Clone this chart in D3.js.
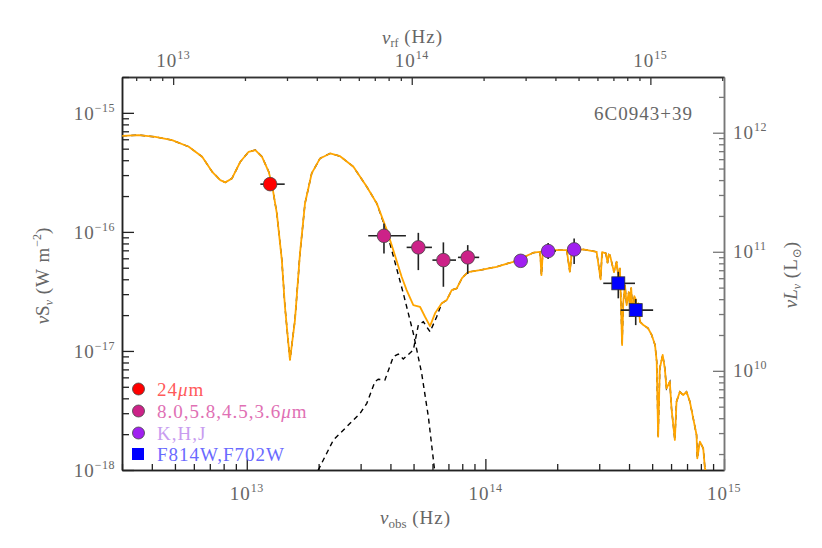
<!DOCTYPE html>
<html>
<head>
<meta charset="utf-8">
<script src="https://cdn.jsdelivr.net/npm/d3@7"></script>
<style>
  body { margin: 0; background: #fff; }
  svg { display: block; }
  text { font-family: "Liberation Serif", "DejaVu Serif", serif; fill: #666; }
</style>
</head>
<body>
<div id="chart"></div>
<script>
// redshift of 6C0943+39, rest-frame axis on top
const redshift = 1.035;
// nuL_nu / nuS_nu conversion (log10)
const logLumFactor = 27.167;

// total model (orange), log10 nu_obs [Hz] and log10 nuS_nu [W m^-2]
const totalLogNu = [12.478, 12.548, 12.617, 12.687, 12.757, 12.813, 12.855, 12.889, 12.910, 12.938,
  12.973, 13.008, 13.036, 13.064, 13.092, 13.106, 13.126, 13.147, 13.160, 13.181,
  13.202, 13.223, 13.244, 13.272, 13.307, 13.349, 13.391, 13.447, 13.503, 13.545,
  13.587, 13.614, 13.649, 13.670, 13.698, 13.726, 13.747, 13.768, 13.789, 13.817,
  13.838, 13.859, 13.880, 13.902, 13.927, 13.977, 14.047, 14.117, 14.201, 14.229,
  14.235, 14.241, 14.284, 14.341, 14.354, 14.363, 14.410, 14.466, 14.483, 14.489,
  14.505, 14.512, 14.517,
  14.522, 14.539, 14.550, 14.558, 14.564, 14.573, 14.578, 14.585, 14.592, 14.601,
  14.606, 14.611, 14.615, 14.620, 14.624, 14.631, 14.636, 14.641,
  14.648, 14.662, 14.682, 14.697, 14.711, 14.718, 14.724, 14.731,
  14.743, 14.752, 14.759, 14.773, 14.780, 14.794, 14.801, 14.815, 14.829, 14.843,
  14.857, 14.871, 14.885, 14.888, 14.899, 14.913, 14.920, 14.929];
const totalLogS = [-15.193, -15.187, -15.202, -15.229, -15.285, -15.369, -15.495, -15.565, -15.584, -15.551,
  -15.411, -15.327, -15.313, -15.369, -15.495, -15.607, -15.845, -16.237, -16.629, -17.076,
  -16.741, -16.181, -15.761, -15.509, -15.383, -15.341, -15.364, -15.453, -15.621, -15.761,
  -15.985, -16.153, -16.377, -16.489, -16.615, -16.629, -16.713, -16.791, -16.684, -16.600,
  -16.573, -16.489, -16.474, -16.388, -16.338, -16.321, -16.293, -16.251, -16.175, -16.167,
  -16.363, -16.161, -16.153, -16.153, -16.335, -16.157, -16.147, -16.167, -16.399, -16.170,
  -16.180, -16.260, -16.190,
  -16.195, -16.338, -16.251, -16.388, -16.306, -16.950, -16.587, -16.447, -16.615, -16.505,
  -16.640, -16.470, -16.600, -16.671, -16.540, -16.573, -16.700, -16.600,
  -16.755, -16.782, -16.810, -16.866, -16.950, -17.091, -17.720, -17.146,
  -17.034, -17.146, -17.314, -17.259, -17.482, -17.748, -17.426, -17.343, -17.370, -17.343,
  -17.426, -17.566, -17.706, -17.902, -17.762, -17.818, -17.986, -18.050];

// dust component (dashed): same as total up to 13.545, then its own fall-off
const dustTailLogNu = [13.587, 13.621, 13.656, 13.698, 13.733, 13.761, 13.787, 13.793];
const dustTailLogS = [-16.002, -16.254, -16.516, -16.852, -17.188, -17.552, -18.000, -18.170];

// stellar component (dashed): own rising part, then same as total from 13.817
const starHeadLogNu = [13.282, 13.363, 13.433, 13.475, 13.503, 13.537, 13.551, 13.579, 13.614, 13.635,
  13.656, 13.698, 13.719, 13.740, 13.768, 13.796];
const starHeadLogS = [-18.070, -17.748, -17.608, -17.524, -17.440, -17.259, -17.238, -17.244, -17.049, -17.026,
  -17.068, -16.992, -16.782, -16.755, -16.839, -16.713];

// photometry: log nu, log nuS, x-error limits, y-error limits
const mipsLogNu = [13.098];
const mipsLogS = [-15.599];
const mipsNuLo = [13.057], mipsNuHi = [13.159];

const iracLogNu = [13.575, 13.719, 13.824, 13.926];
const iracLogS = [-16.033, -16.130, -16.237, -16.214];
const iracNuLo = [13.509, 13.670, 13.778, 13.885];
const iracNuHi = [13.667, 13.776, 13.877, 13.974];
const iracSLo = [-16.181, -16.321, -16.461, -16.354];
const iracSHi = [-15.929, -16.008, -16.088, -16.111];

const nirLogNu = [14.148, 14.263, 14.372];
const nirLogS = [-16.243, -16.161, -16.147];
const nirNuLo = [14.124, 14.236, 14.346];
const nirNuHi = [14.173, 14.296, 14.400];
const nirSLo = [-16.290, -16.228, -16.270];
const nirSHi = [-16.195, -16.094, -16.055];

const hstLogNu = [14.557, 14.630];
const hstLogS = [-16.432, -16.657];
const hstNuLo = [14.494, 14.567];
const hstNuHi = [14.627, 14.703];
const hstSLo = [-16.558, -16.783];
const hstSHi = [-16.335, -16.564];

const legendLabels = ["24\u03bcm", "8.0,5.8,4.5,3.6\u03bcm", "K,H,J", "F814W,F702W"];

const width = 822, height = 548;
const plot = {left: 122, right: 724, top: 77, bottom: 470};

const svg = d3.select("#chart").append("svg")
  .attr("width", width)
  .attr("height", height);

const x = d3.scaleLog().domain([3e12, 1e15]).range([plot.left, plot.right]);
const xTop = d3.scaleLog().domain([3e12 * (1 + redshift), 1e15 * (1 + redshift)]).range([plot.left, plot.right]);
const y = d3.scaleLog().domain([1e-18, 2e-15]).range([plot.bottom, plot.top]);
const yR = d3.scaleLog()
  .domain([1e-18 * Math.pow(10, logLumFactor), 2e-15 * Math.pow(10, logLumFactor)])
  .range([plot.bottom, plot.top]);

const isMajor = v => Math.abs(Math.log10(v) - Math.round(Math.log10(v))) < 1e-6;

// axis helper: minor + major ticks, pointing into the plot
function drawAxis(axisFn, scale, translate, minorLen, majorLen, color) {
  const all = scale.ticks(20);
  const minor = all.filter(v => !isMajor(v));
  const major = all.filter(isMajor);
  const g = svg.append("g").attr("transform", translate);
  g.append("g").call(axisFn(scale).tickValues(minor).tickSize(-minorLen).tickSizeOuter(0).tickFormat(""));
  g.append("g").call(axisFn(scale).tickValues(major).tickSize(-majorLen).tickSizeOuter(0).tickFormat(""));
  g.selectAll("path.domain").attr("stroke", color).attr("stroke-width", 1.5);
  g.selectAll(".tick line").attr("stroke", color).attr("stroke-width", 1.3);
  return major;
}

function powerLabel(sel, exp) {
  sel.append("tspan").text("10").attr("letter-spacing", 1);
  sel.append("tspan").text(exp < 0 ? "\u2212" + (-exp) : exp)
    .attr("font-size", 12).attr("dy", -8).attr("letter-spacing", 0.5);
}

const xMajor = drawAxis(d3.axisBottom, x, `translate(0,${plot.bottom})`, 6, 11, "#222");
xMajor.forEach(v => {
  const t = svg.append("text").attr("x", x(v)).attr("y", 500)
    .attr("text-anchor", "middle").attr("font-size", 19);
  powerLabel(t, Math.round(Math.log10(v)));
});

const xtMajor = drawAxis(d3.axisTop, xTop, `translate(0,${plot.top})`, 4, 8, "#333");
xtMajor.forEach(v => {
  const t = svg.append("text").attr("x", xTop(v)).attr("y", 67)
    .attr("text-anchor", "middle").attr("font-size", 19);
  powerLabel(t, Math.round(Math.log10(v)));
});

const yMajor = drawAxis(d3.axisLeft, y, `translate(${plot.left},0)`, 7, 12, "#222");
yMajor.forEach(v => {
  const t = svg.append("text").attr("x", 115).attr("y", y(v) + 7)
    .attr("text-anchor", "end").attr("font-size", 19);
  powerLabel(t, Math.round(Math.log10(v)));
});

const yRMajor = drawAxis(d3.axisRight, yR, `translate(${plot.right},0)`, 5, 11, "#777");
yRMajor.forEach(v => {
  const t = svg.append("text").attr("x", 733).attr("y", yR(v) + 6)
    .attr("text-anchor", "start").attr("font-size", 19);
  powerLabel(t, Math.round(Math.log10(v)));
});

// axis titles
const bt = svg.append("text").attr("x", 380).attr("y", 524).attr("font-size", 19);
bt.append("tspan").text("\u03bd").attr("font-style", "italic");
bt.append("tspan").text("obs").attr("font-size", 13).attr("dy", 4);
bt.append("tspan").text(" (Hz)").attr("dy", -4).attr("letter-spacing", 1);

const tt = svg.append("text").attr("x", 382).attr("y", 44).attr("font-size", 19);
tt.append("tspan").text("\u03bd").attr("font-style", "italic");
tt.append("tspan").text("rf").attr("font-size", 12).attr("dy", 3);
tt.append("tspan").text(" (Hz)").attr("dy", -4).attr("letter-spacing", 1);

const lt = svg.append("text").attr("transform", "translate(49,276) rotate(-90)")
  .attr("text-anchor", "middle").attr("font-size", 19);
lt.append("tspan").text("\u03bd").attr("font-style", "italic");
lt.append("tspan").text("S");
lt.append("tspan").text("\u03bd").attr("font-size", 12).attr("dy", 4).attr("font-style", "italic");
lt.append("tspan").text(" (W m").attr("dy", -4).attr("letter-spacing", 1);
lt.append("tspan").text("\u22122").attr("font-size", 12).attr("dy", -8);
lt.append("tspan").text(")").attr("dy", 8);

const rt = svg.append("text").attr("transform", "translate(797,275) rotate(-90)")
  .attr("text-anchor", "middle").attr("font-size", 19);
rt.append("tspan").text("\u03bdL").attr("font-style", "italic");
rt.append("tspan").text("\u03bd").attr("font-size", 12).attr("dy", 4).attr("font-style", "italic");
rt.append("tspan").text(" (L").attr("dy", -4).attr("letter-spacing", 1);
rt.append("tspan").text("\u2299").attr("font-size", 12).attr("dy", 4);
rt.append("tspan").text(")").attr("dy", -4);

svg.append("text").attr("x", 693).attr("y", 120).attr("text-anchor", "end")
  .attr("font-size", 19).attr("letter-spacing", 1).text("6C0943+39");

// curves, clipped to the frame
svg.append("clipPath").attr("id", "clip").append("rect")
  .attr("x", plot.left).attr("y", plot.top)
  .attr("width", plot.right - plot.left).attr("height", plot.bottom - plot.top);
const curves = svg.append("g").attr("clip-path", "url(#clip)");

const line = d3.line()
  .x(d => x(Math.pow(10, d[0])))
  .y(d => y(Math.pow(10, d[1])));

const total = d3.zip(totalLogNu, totalLogS);
const splitDust = totalLogNu.indexOf(13.545);
const dust = total.slice(0, splitDust + 1).concat(d3.zip(dustTailLogNu, dustTailLogS));
const splitStar = totalLogNu.indexOf(13.817);
const star = d3.zip(starHeadLogNu, starHeadLogS).concat(total.slice(splitStar));

[dust, star].forEach(c => {
  curves.append("path").datum(c).attr("d", line)
    .attr("fill", "none").attr("stroke", "#000")
    .attr("stroke-width", 1.4).attr("stroke-dasharray", "5,4");
});
curves.append("path").datum(total).attr("d", line)
  .attr("fill", "none").attr("stroke", "#ffa500")
  .attr("stroke-width", 1.8).attr("stroke-linejoin", "round");

// photometry with error bars
function drawPoints(lnu, ls, nuLo, nuHi, sLo, sHi, color, shape) {
  const g = svg.append("g");
  lnu.forEach((v, i) => {
    const cx = x(Math.pow(10, v)), cy = y(Math.pow(10, ls[i]));
    g.append("line").attr("x1", x(Math.pow(10, nuLo[i]))).attr("x2", x(Math.pow(10, nuHi[i])))
      .attr("y1", cy).attr("y2", cy).attr("stroke", "#222").attr("stroke-width", 1.6);
    if (sLo) {
      g.append("line").attr("x1", cx).attr("x2", cx)
        .attr("y1", y(Math.pow(10, sLo[i]))).attr("y2", y(Math.pow(10, sHi[i])))
        .attr("stroke", "#222").attr("stroke-width", 1.6);
    }
    if (shape === "square") {
      g.append("rect").attr("x", cx - 6.5).attr("y", cy - 6.5).attr("width", 13).attr("height", 13)
        .attr("fill", color).attr("stroke", "#333").attr("stroke-width", 0.8);
    } else {
      g.append("circle").attr("cx", cx).attr("cy", cy).attr("r", 6.8)
        .attr("fill", color).attr("stroke", "#444").attr("stroke-width", 0.8);
    }
  });
}
drawPoints(mipsLogNu, mipsLogS, mipsNuLo, mipsNuHi, null, null, "#ff0000", "circle");
drawPoints(iracLogNu, iracLogS, iracNuLo, iracNuHi, iracSLo, iracSHi, "#cc2288", "circle");
drawPoints(nirLogNu, nirLogS, nirNuLo, nirNuHi, nirSLo, nirSHi, "#a020f0", "circle");
drawPoints(hstLogNu, hstLogS, hstNuLo, hstNuHi, hstSLo, hstSHi, "#0000ff", "square");

// legend
const legendMarker = ["#ff0000", "#cc2288", "#a020f0", "#0000ff"];
const legendText = ["#ff5a5a", "#e070b4", "#c89cf0", "#6a6aff"];
const legendY = [389, 411, 433, 454];
legendLabels.forEach((lab, i) => {
  if (i === 3) {
    svg.append("rect").attr("x", 132).attr("y", legendY[i] - 6).attr("width", 12).attr("height", 12)
      .attr("fill", legendMarker[i]);
  } else {
    svg.append("circle").attr("cx", 138.5).attr("cy", legendY[i]).attr("r", 6)
      .attr("fill", legendMarker[i]).attr("stroke", "#444").attr("stroke-width", 0.8);
  }
  const t = svg.append("text").attr("x", 157).attr("y", legendY[i] + 6.5)
    .attr("font-size", 19).attr("letter-spacing", 1).style("fill", legendText[i]);
  const m = lab.indexOf("\u03bc");
  if (m >= 0) {
    t.append("tspan").text(lab.slice(0, m));
    t.append("tspan").text("\u03bc").attr("font-style", "italic");
    t.append("tspan").text(lab.slice(m + 1));
  } else {
    t.text(lab);
  }
});
</script>
</body>
</html>
